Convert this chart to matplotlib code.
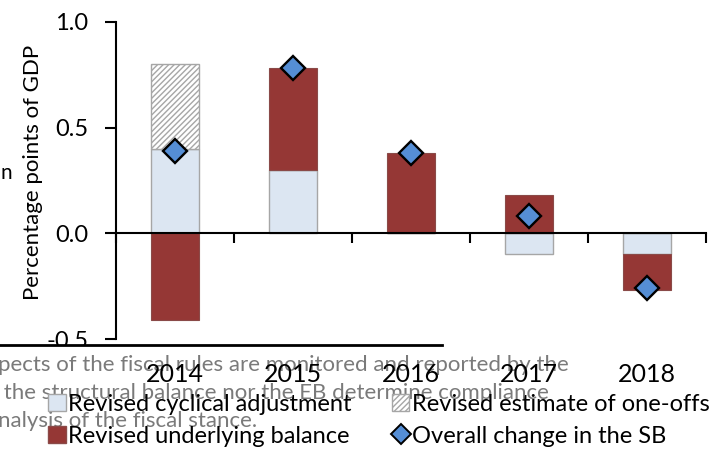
import numpy as np
import matplotlib
matplotlib.use("Agg")
import matplotlib.pyplot as plt
from matplotlib.patches import Rectangle, Patch
from matplotlib.lines import Line2D
import matplotlib.transforms as mtransforms

plt.rcParams['font.family'] = ['Lato', 'DejaVu Sans']
plt.rcParams['hatch.color'] = '#8c8c8c'
plt.rcParams['hatch.linewidth'] = 1.0

years = ['2014', '2015', '2016', '2017', '2018']
cyclical = [0.40, 0.30, 0.00, -0.10, -0.10]
one_offs = [0.40, 0.00, 0.00, 0.00, 0.00]
underlying = [-0.41, 0.48, 0.38, 0.18, -0.17]
overall_sb = [0.39, 0.78, 0.38, 0.08, -0.26]

labels = ['Revised cyclical adjustment', 'Revised estimate of one-offs',
          'Revised underlying balance', 'Overall change in the SB']

# stray text from the page behind the chart
page_lines = ['pects of the fiscal rules are monitored and reported by the',
              ' the structural balance nor the EB determine compliance',
              'nalysis of the fiscal stance.']

fig = plt.figure(figsize=(7.09, 4.5), dpi=100)
ax = fig.add_axes([116 / 709, 1 - 339 / 450, 590 / 709, 317 / 450])

x = np.arange(len(years))
w = 0.41

# excel-style stacking: positives on positives, negatives on negatives
pos = np.zeros(len(years))
neg = np.zeros(len(years))


def stack(vals):
    vals = np.array(vals)
    bottom = np.where(vals >= 0, pos, neg)
    pos[:] = pos + np.clip(vals, 0, None)
    neg[:] = neg + np.clip(vals, None, 0)
    return vals, bottom


v, b = stack(cyclical)
ax.bar(x, v, w, bottom=b, color='#dce6f2', edgecolor='#a6a6a6', linewidth=1.0, zorder=2)
v, b = stack(one_offs)
ax.bar(x, v, w, bottom=b, color='white', edgecolor='#a6a6a6', hatch='//////', linewidth=1.0, zorder=2)
v, b = stack(underlying)
ax.bar(x, v, w, bottom=b, color='#953735', edgecolor='#8a4a48', linewidth=0.8, zorder=2)
ax.plot(x, overall_sb, 'D', color='#558ed5', markeredgecolor='black', markeredgewidth=1.7,
        markersize=12, zorder=4, clip_on=False)

ax.set_xlim(-0.5, len(years) - 0.5)
ax.set_ylim(-0.5, 1.0)
ax.set_yticks([-0.5, 0.0, 0.5, 1.0])
ax.set_yticklabels(['-0.5', '0.0', '0.5', '1.0'])
ax.tick_params(axis='y', direction='out', length=8, width=1.5, labelsize=17, pad=12)
ax.set_xticks(np.arange(-0.5, len(years), 1.0))
ax.tick_params(axis='x', direction='out', length=7, width=1.5, labelbottom=False)

for s in ['top', 'right']:
    ax.spines[s].set_visible(False)
ax.spines['left'].set_linewidth(1.5)
ax.spines['bottom'].set_position(('data', 0))
ax.spines['bottom'].set_linewidth(1.5)
ax.spines['bottom'].set_zorder(3)

ax.set_ylabel('Percentage points of GDP', fontsize=16)
ax.yaxis.set_label_coords(-0.124, 0.525)

# white page area below the cut of the chart image
fig.add_artist(Rectangle((0, 0), 1, 1 - 346 / 450, transform=fig.transFigure,
                         facecolor='white', edgecolor='none', zorder=1))
fig.add_artist(Line2D([0, 442 / 709], [1 - 345 / 450] * 2, transform=fig.transFigure,
                      color='black', linewidth=2, zorder=2))
fig.text(0, 1 - 173 / 450, 'n', fontsize=15, va='center', ha='left', zorder=2)

for i, line in enumerate(page_lines):
    fig.text(-0.003, 1 - (365 + 28 * i) / 450, line, fontsize=16, color='#7a7a7a',
             va='center', ha='left', zorder=2)

trans = mtransforms.blended_transform_factory(ax.transData, fig.transFigure)
for xi, yr in zip(x, years):
    fig.text(xi, 1 - 374 / 450, yr, transform=trans, fontsize=18, ha='center', va='center', zorder=3)

handles = [Patch(facecolor='#dce6f2', edgecolor='#a6a6a6'),
           Patch(facecolor='#953735', edgecolor='#8a4a48'),
           Patch(facecolor='white', edgecolor='#a6a6a6', hatch='//////'),
           Line2D([], [], marker='D', linestyle='none', color='#558ed5', markeredgecolor='black',
                  markeredgewidth=1.4, markersize=10)]
leg = fig.legend(handles, [labels[0], labels[2], labels[1], labels[3]], ncol=2,
                 loc='upper left', bbox_to_anchor=(48 / 709, 1 - 394 / 450),
                 frameon=False, fontsize=17, handlelength=0.75, handleheight=0.75,
                 handletextpad=0.1, columnspacing=1.7, labelspacing=0.45, borderpad=0,
                 borderaxespad=0)
leg.set_zorder(4)

fig.savefig('out.png', dpi=100)
